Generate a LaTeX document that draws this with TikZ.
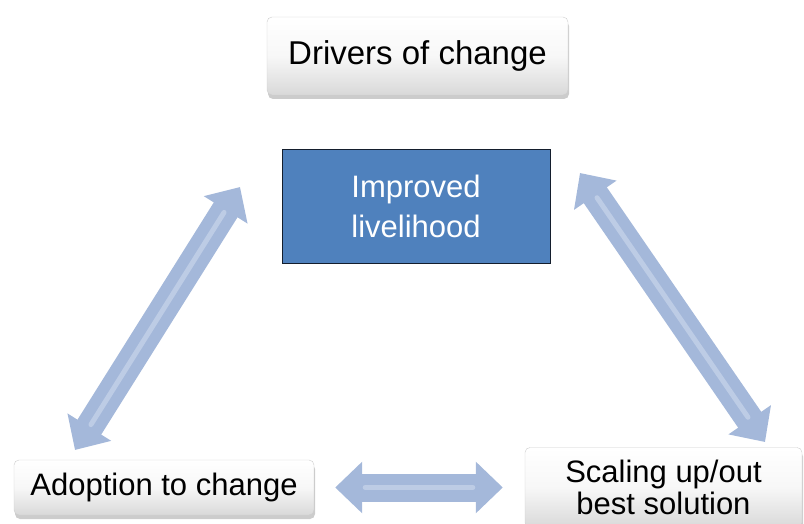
\documentclass[tikz,border=0pt]{standalone}
\usepackage{fontspec}
\setmainfont{Liberation Sans}
\definecolor{livelihood-blue}{RGB}{79,129,189}
\definecolor{livelihood-edge}{RGB}{20,30,45}
\definecolor{arrow-blue}{RGB}{164,184,218}
\definecolor{arrow-light}{RGB}{214,224,241}
\definecolor{box-edge}{RGB}{205,205,205}
\usetikzlibrary{arrows.meta,shadows,positioning}

\begin{document}
\begin{tikzpicture}[x=1pt,y=1pt,
    glossbox/.style={draw=box-edge,rounded corners=5pt,
        top color=white,bottom color=gray!30,middle color=gray!6,
        drop shadow={shadow xshift=1pt,shadow yshift=-4pt,opacity=0.4},
        inner sep=0pt,align=center},
    bluebox/.style={draw=livelihood-edge,fill=livelihood-blue,text=white,
        inner sep=0pt,align=center},
    fatarrow/.style={line width=28pt,draw=arrow-blue,
        {Triangle[length=27pt,width=50pt]}-{Triangle[length=27pt,width=50pt]}},
    gloss/.style={line width=5pt,draw=arrow-light,opacity=0.5,line cap=round}
    ]
    \useasboundingbox (0,0) rectangle (804,523);
    % arrow ends away from the boxes
    \coordinate (adopt-up) at (75,73);
    \coordinate (live-left) at (240,336);
    \coordinate (live-right) at (580,350);
    \coordinate (scale-up) at (765,81);
    %
    \node[glossbox,minimum width=301pt,minimum height=78pt,
        font=\fontsize{33}{38}\selectfont] (drivers) at (417.5,467) {Drivers of change};
    \node[bluebox,minimum width=268pt,minimum height=114pt,
        font=\fontsize{31}{40}\selectfont] (livelihood) at (416,317) {Improved\\livelihood};
    \node[glossbox,minimum width=300pt,minimum height=55pt,
        font=\fontsize{31}{36}\selectfont] (adoption) at (164,35.5) {Adoption to change};
    \node[glossbox,minimum width=277pt,minimum height=80pt,
        font=\fontsize{31}{32}\selectfont] (scaling) at (663.5,35.5) {Scaling up/out\\best solution};
    %
    % double arrows round the triangle
    \draw[fatarrow] (adopt-up) -- (live-left);
    \draw[gloss,shorten <=30pt,shorten >=30pt] (adopt-up) -- (live-left);
    \draw[fatarrow] (live-right) -- (scale-up);
    \draw[gloss,shorten <=30pt,shorten >=30pt] (live-right) -- (scale-up);
    \draw[fatarrow,shorten <=21pt,shorten >=22pt] (adoption) -- (scaling);
    \draw[gloss,shorten <=51pt,shorten >=52pt] (adoption) -- (scaling);
\end{tikzpicture}
\end{document}
